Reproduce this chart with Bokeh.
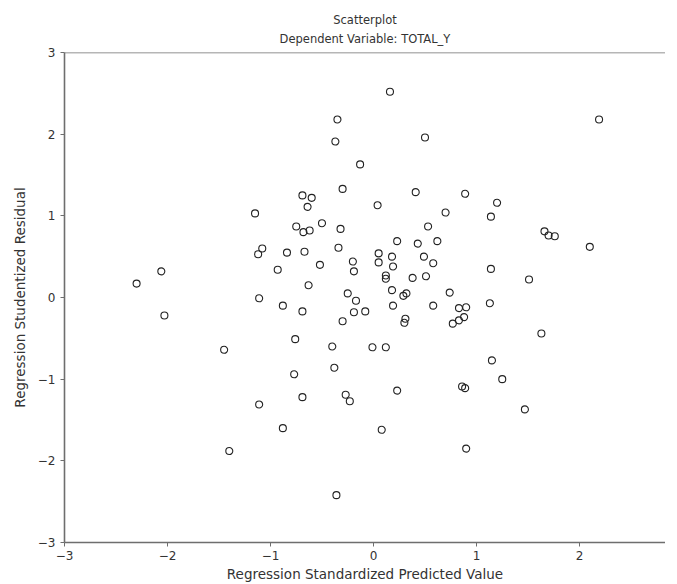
from bokeh.plotting import figure
from bokeh.models import Title, FixedTicker, Span
from bokeh.embed import file_html
from bokeh.resources import INLINE

# Regression standardized predicted value (x) and studentized residual (y)
pred = [-2.30, -2.06, -2.03, -1.45, -1.40, -1.15, -1.08, -1.12, -1.11, -1.11,
        -0.93, -0.88, -0.88, -0.84, -0.75, -0.68, -0.62, -0.50, -0.67, -0.63,
        -0.69, -0.76, -0.77, -0.69, -0.52, -0.34, -0.32, -0.30, -0.37, -0.35,
        -0.13, -0.69, -0.60, -0.64, -0.20, -0.19, -0.25, -0.17, -0.19, -0.08,
        -0.30, -0.40, -0.38, -0.27, -0.23, -0.36, -0.01, 0.12, 0.08, 0.23,
        0.04, 0.16, 0.05, 0.05, 0.18, 0.19, 0.12, 0.12, 0.23, 0.18,
        0.29, 0.32, 0.19, 0.31, 0.30, 0.38, 0.43, 0.41, 0.50, 0.49,
        0.51, 0.53, 0.58, 0.62, 0.58, 0.70, 0.74, 0.77, 0.83, 0.88,
        0.83, 0.90, 0.86, 0.89, 0.89, 0.90, 1.13, 1.15, 1.25, 1.14,
        1.14, 1.20, 1.47, 1.51, 1.63, 1.66, 1.70, 1.76, 2.10, 2.19]
resid = [0.17, 0.32, -0.22, -0.64, -1.88, 1.03, 0.60, 0.53, -0.01, -1.31,
         0.34, -0.10, -1.60, 0.55, 0.87, 0.80, 0.82, 0.91, 0.56, 0.15,
         -0.17, -0.51, -0.94, -1.22, 0.40, 0.61, 0.84, 1.33, 1.91, 2.18,
         1.63, 1.25, 1.22, 1.11, 0.44, 0.32, 0.05, -0.04, -0.18, -0.17,
         -0.29, -0.60, -0.86, -1.19, -1.27, -2.42, -0.61, -0.61, -1.62, -1.14,
         1.13, 2.52, 0.54, 0.43, 0.50, 0.38, 0.27, 0.23, 0.69, 0.09,
         0.02, 0.05, -0.10, -0.26, -0.31, 0.24, 0.66, 1.29, 1.96, 0.50,
         0.26, 0.87, 0.42, 0.69, -0.10, 1.04, 0.06, -0.32, -0.28, -0.24,
         -0.13, -0.12, -1.09, -1.11, 1.27, -1.85, -0.07, -0.77, -1.00, 0.35,
         0.99, 1.16, -1.37, 0.22, -0.44, 0.81, 0.76, 0.75, 0.62, 2.18]

x_ticks = [-3, -2, -1, 0, 1, 2]
y_ticks = [-3, -2, -1, 0, 1, 2, 3]

FONT = "DejaVu Sans"
AX = "#6e6e6e"

p = figure(output_backend="svg", toolbar_location=None,
           frame_width=601, frame_height=490,
           x_range=(-3, 2.835), y_range=(-3, 3),
           min_border_left=64, min_border_top=52, min_border_right=0,
           min_border_bottom=30)
p.background_fill_color = "white"
p.border_fill_color = "white"
p.outline_line_color = None
p.grid.visible = False

p.scatter(pred, resid, marker="circle", size=7, fill_color=None,
          line_color="#222222", line_width=1.1)

p.add_layout(Span(location=3, dimension="width", line_color=AX, line_width=1.6))

for ax, ticks in ((p.xaxis[0], x_ticks), (p.yaxis[0], y_ticks)):
    ax.ticker = FixedTicker(ticks=ticks)
    ax.major_label_overrides = {t: (str(t).replace("-", "\u2212")) for t in ticks}
    ax.minor_tick_line_color = None
    ax.major_tick_in = 0
    ax.major_tick_out = 4
    ax.axis_line_color = AX
    ax.axis_line_width = 1.6
    ax.major_tick_line_color = AX
    ax.major_label_text_font = FONT
    ax.major_label_text_font_size = "12px"
    ax.major_label_text_color = "#333333"
    ax.axis_label_text_font = FONT
    ax.axis_label_text_font_size = "13.5px"
    ax.axis_label_text_font_style = "normal"
    ax.axis_label_text_color = "#333333"

p.xaxis.axis_label = "Regression Standardized Predicted Value"
p.yaxis.axis_label = "Regression Studentized Residual"
p.xaxis.major_label_standoff = 4
p.yaxis.major_label_standoff = 5
p.xaxis.axis_label_standoff = 3
p.yaxis.axis_label_standoff = 7

p.add_layout(Title(text="Dependent Variable: TOTAL_Y", align="center",
                   vertical_align="top",
                   text_font=FONT, text_font_size="11.5px",
                   text_font_style="normal", text_color="#333333",
                   standoff=10), "above")
p.add_layout(Title(text="Scatterplot", align="center",
                   text_font=FONT, text_font_size="11.5px",
                   text_font_style="normal", text_color="#333333",
                   standoff=0), "above")

open("out.html", "w").write(file_html(p, INLINE))
